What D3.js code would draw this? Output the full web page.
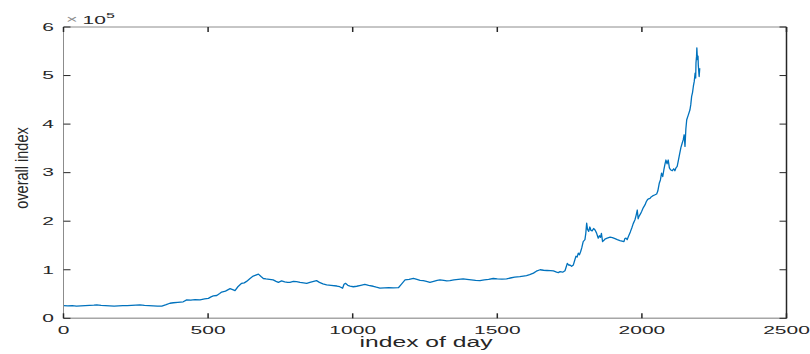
<!DOCTYPE html>
<html>
<head>
<meta charset="utf-8">
<script src="https://cdn.jsdelivr.net/npm/d3@7"></script>
<style>
  body { margin: 0; background: #fff; }
  text { font-family: "Liberation Sans", Arial, Helvetica, sans-serif; }
</style>
</head>
<body>
<div id="chart"></div>
<script>
// day index and overall index value
var days = [1, 15, 30, 45, 60, 75, 90, 105, 115, 130, 145, 160, 175, 190, 205, 220, 235, 250, 264, 280,
    295, 310, 325, 340, 355, 368, 380, 395, 414, 426, 440, 455, 472, 488, 501, 510, 518, 530, 540, 547,
    560, 576, 585, 593, 603, 616, 625, 633, 645, 656, 665, 674, 683, 691, 700, 712, 725, 735, 743, 754,
    765, 775, 783, 795, 806, 818, 830, 841, 852, 865, 875, 885, 897, 910, 925, 945, 955, 965, 970, 975,
    983, 991, 1002, 1014, 1028, 1042, 1055, 1071, 1082, 1094, 1110, 1125, 1140, 1158, 1168, 1181, 1195, 1210, 1222, 1233,
    1244, 1255, 1267, 1280, 1292, 1302, 1315, 1325, 1336, 1350, 1365, 1382, 1395, 1410, 1425, 1440, 1455, 1470, 1486, 1500,
    1516, 1532, 1545, 1560, 1578, 1590, 1601, 1612, 1625, 1635, 1648, 1660, 1672, 1684, 1694, 1705, 1711, 1717, 1726, 1734,
    1742, 1748, 1751, 1757, 1763, 1768, 1772, 1776, 1780, 1784, 1788, 1792, 1797, 1803, 1806, 1809, 1812, 1816, 1820, 1824,
    1828, 1833, 1838, 1843, 1849, 1853, 1857, 1860, 1864, 1868, 1872, 1880, 1890, 1898, 1907, 1915, 1924, 1931, 1938, 1941,
    1945, 1949, 1953, 1960, 1965, 1970, 1976, 1980, 1984, 1987, 1990, 1995, 1999, 2005, 2011, 2015, 2019, 2023, 2028, 2032,
    2037, 2044, 2051, 2055, 2060, 2064, 2068, 2072, 2076, 2080, 2083, 2087, 2091, 2095, 2099, 2105, 2110, 2114, 2118, 2122,
    2126, 2131, 2135, 2139, 2143, 2146, 2149, 2152, 2155, 2160, 2166, 2169, 2172, 2175, 2178, 2181, 2184, 2186, 2187, 2189,
    2190, 2192, 2194, 2195, 2197, 2198, 2200]
var values = [26000, 25500, 26000, 25000, 25500, 26000, 26500, 27000, 27500, 26500, 26000, 25500, 25000, 25500, 26000, 26000, 26500, 27000, 27500, 26500,
    26000, 25500, 25000, 25000, 28000, 31000, 32000, 33000, 34000, 38000, 37500, 38500, 38000, 40000, 41000, 44000, 46000, 47000, 51000, 54000,
    56000, 61000, 59000, 57000, 65000, 72000, 73000, 76000, 82000, 87000, 89000, 91000, 86000, 82000, 81000, 80000, 79000, 76000, 74000, 77000,
    75000, 74000, 74000, 76000, 75500, 74000, 73000, 72000, 74000, 76000, 77500, 74000, 71000, 69000, 68000, 66500, 65000, 62000, 70000, 72000,
    68000, 66500, 65000, 66000, 68000, 70000, 68000, 66000, 64000, 62000, 62500, 63000, 62500, 63000, 70000, 79000, 80000, 82000, 80000, 78000,
    77500, 76000, 74000, 76000, 78000, 79000, 78000, 77000, 77500, 79000, 80000, 81000, 80000, 79000, 78000, 77500, 79000, 80000, 82000, 81000,
    80500, 81000, 83000, 85000, 86000, 87000, 88000, 90000, 93000, 97000, 100000, 99000, 98500, 98000, 97500, 95000, 94000, 96000, 95000, 98000,
    113000, 109000, 110000, 107000, 110000, 120000, 128000, 126000, 134000, 131000, 137000, 145000, 158000, 162000, 175000, 196000, 183000, 179000, 188000, 181000,
    180000, 185000, 182000, 176000, 165000, 170000, 167000, 175000, 158000, 160000, 163000, 165000, 167000, 166000, 164000, 162000, 160000, 159000, 158000, 164000,
    165000, 162000, 168000, 178000, 186000, 195000, 203000, 212000, 223000, 205000, 210000, 215000, 220000, 228000, 234000, 240000, 244000, 246000, 247000, 250000,
    252000, 254000, 256000, 262000, 278000, 285000, 299000, 292000, 306000, 318000, 326000, 318000, 326000, 310000, 306000, 304000, 308000, 304000, 310000, 313000,
    325000, 340000, 352000, 360000, 368000, 378000, 354000, 390000, 409000, 418000, 429000, 440000, 457000, 465000, 478000, 488000, 505000, 495000, 526000, 540000,
    557000, 533000, 540000, 522000, 505000, 498000, 515000]
var xTicks = [0, 500, 1000, 1500, 2000, 2500]
var yTicks = [0, 100000, 200000, 300000, 400000, 500000, 600000]

var W = 810, H = 354
var plotL = 63.5, plotR = 786.5, plotT = 27, plotB = 318.3
var ink = "#262626"

var svg = d3.select("#chart")
    .append("svg")
        .attr("width", W)
        .attr("height", H)

var x = d3.scaleLinear().domain([0, 2500]).range([plotL, plotR])
var y = d3.scaleLinear().domain([0, 600000]).range([plotB, plotT])

var data = days.map(function(d, i) { return { day: d, v: values[i] }; })

// the series
svg.append("path")
    .datum(data)
    .attr("fill", "none")
    .attr("stroke", "#0072BD")
    .attr("stroke-width", 1.3)
    .attr("stroke-linejoin", "round")
    .attr("d", d3.line()
        .x(function(d) { return x(d.day); })
        .y(function(d) { return y(d.v); }));

// box lines
svg.append("line").attr("x1", plotL).attr("x2", plotR).attr("y1", plotT).attr("y2", plotT)
    .attr("stroke", "#8c8c8c").attr("stroke-width", 1)
svg.append("line").attr("x1", plotL).attr("x2", plotL).attr("y1", plotT).attr("y2", plotB)
    .attr("stroke", "#8c8c8c").attr("stroke-width", 1)
svg.append("line").attr("x1", plotL).attr("x2", plotR).attr("y1", plotB).attr("y2", plotB)
    .attr("stroke", "#a6a6a6").attr("stroke-width", 1.5)
svg.append("line").attr("x1", plotR).attr("x2", plotR).attr("y1", plotT).attr("y2", plotB)
    .attr("stroke", ink).attr("stroke-width", 1.5)

// ticks pointing inward on all four sides
svg.selectAll("xtickb").data(xTicks).join("line")
    .attr("x1", function(d) { return x(d); }).attr("x2", function(d) { return x(d); })
    .attr("y1", plotB).attr("y2", plotB - 5)
    .attr("stroke", ink).attr("stroke-width", 1.5)
svg.selectAll("xtickt").data(xTicks).join("line")
    .attr("x1", function(d) { return x(d); }).attr("x2", function(d) { return x(d); })
    .attr("y1", plotT).attr("y2", plotT + 5)
    .attr("stroke", ink).attr("stroke-width", 1.5)
svg.selectAll("ytickl").data(yTicks).join("line")
    .attr("x1", plotL).attr("x2", plotL + 7)
    .attr("y1", function(d) { return y(d); }).attr("y2", function(d) { return y(d); })
    .attr("stroke", ink).attr("stroke-width", 1)
svg.selectAll("ytickr").data(yTicks).join("line")
    .attr("x1", plotR).attr("x2", plotR - 7)
    .attr("y1", function(d) { return y(d); }).attr("y2", function(d) { return y(d); })
    .attr("stroke", ink).attr("stroke-width", 1)

// tick labels, stretched wide like the source image
var sx = 2.0
svg.selectAll("xlab").data(xTicks).join("g")
    .attr("transform", function(d) { return "translate(" + x(d) + ",334) scale(" + sx + ",1)"; })
    .append("text")
        .attr("text-anchor", "middle")
        .style("font-size", "10.5px")
        .attr("fill", ink)
        .text(function(d) { return d; })
svg.selectAll("ylab").data(yTicks).join("g")
    .attr("transform", function(d) { return "translate(54," + (y(d) + 3.8) + ") scale(" + sx + ",1)"; })
    .append("text")
        .attr("text-anchor", "end")
        .style("font-size", "10.5px")
        .attr("fill", ink)
        .text(function(d) { return d / 100000; })

// exponent label
var ex = svg.append("g").attr("transform", "translate(66,24) scale(" + sx + ",1)")
ex.append("text").attr("x", 0).attr("y", -1)
    .style("font-size", "10px").attr("fill", "#8c8c8c").text("\u00d7")
ex.append("text").attr("x", 8.3).attr("y", 0)
    .style("font-size", "10.5px").attr("fill", ink).text("10")
ex.append("text").attr("x", 20).attr("y", -5.7)
    .style("font-size", "8px").attr("fill", ink).text("5")

// axis titles
svg.append("g")
    .attr("transform", "translate(426,347) scale(1.7,1)")
    .append("text")
        .attr("text-anchor", "middle")
        .style("font-size", "14.5px")
        .attr("fill", ink)
        .text("index of day")
svg.append("g")
    .attr("transform", "translate(28,168) rotate(-90) scale(1,1.24)")
    .append("text")
        .attr("text-anchor", "middle")
        .style("font-size", "14.5px")
        .attr("fill", ink)
        .text("overall index")
</script>
</body>
</html>
